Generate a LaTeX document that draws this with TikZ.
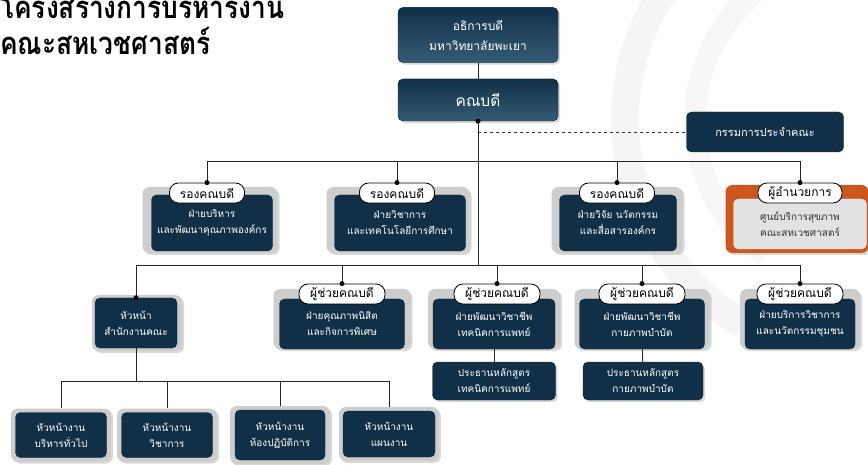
\documentclass[tikz,border=0pt]{standalone}
\usepackage{fontspec}
\newfontfamily\thaifont[Script=Thai]{Loma}
\usetikzlibrary{shadows}

\definecolor{boxnavy}{RGB}{17,48,72}
\definecolor{boxlight}{RGB}{52,92,116}
\definecolor{backgray}{RGB}{205,205,205}
\definecolor{headorange}{RGB}{204,86,32}
\definecolor{innergray}{RGB}{226,226,226}

\tikzset{
  darkbox/.style={rounded corners=5pt, fill=boxnavy, draw=boxnavy!70!black, text=white,
    align=center, inner sep=2pt, font=\thaifont\fontsize{10}{16}\selectfont},
  backbox/.style={rounded corners=7pt, fill=backgray,
    drop shadow={opacity=0.3, shadow xshift=2pt, shadow yshift=-2pt}},
  pill/.style={rounded corners=9pt, fill=white, draw=black, thick, inner sep=1pt,
    minimum height=20pt, font=\thaifont\fontsize{12}{14}\selectfont},
  dot/.style={circle, fill=black, inner sep=0pt, minimum size=5pt},
  link/.style={thick, black!85},
  headline/.style={anchor=base west, inner sep=0pt, xscale=0.85, transform shape,
    font=\thaifont\bfseries\fontsize{31}{36}\selectfont}
}

\begin{document}
\begin{tikzpicture}[x=1pt,y=-1pt]
    \useasboundingbox (0,0) rectangle (868,465);

    % watermark arcs
    \draw[black!4, line width=28pt] (860,120) ++(120:235) arc (120:265:235);
    \draw[black!3, line width=22pt] (860,120) ++(125:165) arc (125:260:165);

    % title
    \node[headline] (title1) at (0,19) {โครงสร้างการบริหารงาน};
    \node[headline] (title2) at (0,55) {คณะสหเวชศาสตร์};

    % top
    \node[darkbox, top color=boxnavy, bottom color=boxlight, minimum width=160pt, minimum height=55pt,
      font=\thaifont\fontsize{12}{20}\selectfont, drop shadow={opacity=0.3}] (rector) at (478,35) {อธิการบดี\\มหาวิทยาลัยพะเยา};
    \node[darkbox, top color=boxnavy, bottom color=boxlight, minimum width=160pt, minimum height=42pt,
      font=\thaifont\fontsize{15.5}{20}\selectfont, drop shadow={opacity=0.3}] (dean) at (478,100) {คณบดี};
    \node[darkbox, minimum width=157pt, minimum height=40pt, font=\thaifont\fontsize{11}{13}\selectfont] (board) at (765,132) {กรรมการประจำคณะ};

    \draw[link] (rector) -- (dean);
    \node[dot] (deandot) at (dean.south) {};
    \coordinate (trunk) at (dean.south |- 0,265);
    \coordinate (dash) at (dean.south |- board.west);
    \draw[link] (dean.south) -- (trunk);
    \draw[thick, dashed, black!80] (dash) -- (board.west);

    % vice deans
    \foreach \n/\x/\w in {v1/210/127, v2/398/135, v3/617/123}
      \node[backbox, minimum width=\w pt+8pt, minimum height=66pt] (\n back) at (\x,220) {};
    \node[backbox, fill=headorange, minimum width=143pt, minimum height=68pt] (v4back) at (797,219) {};

    \node[darkbox, minimum width=121pt, minimum height=56pt] (v1) at (212,223) {ฝ่ายบริหาร\\และพัฒนาคุณภาพองค์กร};
    \node[darkbox, minimum width=131pt, minimum height=56pt] (v2) at (400,223) {ฝ่ายวิชาการ\\และเทคโนโลยีการศึกษา};
    \node[darkbox, minimum width=117pt, minimum height=56pt] (v3) at (618,223) {ฝ่ายวิจัย นวัตกรรม\\และสื่อสารองค์กร};
    \node[darkbox, fill=innergray, draw=innergray, text=black!80, minimum width=133pt, minimum height=50pt] (v4) at (800,224) {ศูนย์บริการสุขภาพ\\คณะสหเวชศาสตร์};

    \foreach \n/\x in {v1/207, v2/397, v3/617}
      \node[pill, minimum width=75pt] (\n pill) at (\x,193) {รองคณบดี};
    \node[pill, minimum width=84pt] (v4pill) at (800,193) {ผู้อำนวยการ};

    \coordinate (bus1w) at (v1pill.north |- 0,161);
    \coordinate (bus1e) at (v4pill.north |- 0,161);
    \draw[link] (bus1w) -- (bus1e);
    \foreach \n in {v1,v2,v3,v4}{
      \draw[link] (\n pill.north |- bus1w) -- (\n pill.north);
      \node[dot] (\n dot) at (\n pill.north) {};
    }

    % assistants
    \node[backbox, minimum width=90pt, minimum height=56pt] (hqback) at (137,323) {};
    \node[darkbox, minimum width=82pt, minimum height=50pt] (hq) at (136,323) {หัวหน้า\\สำนักงานคณะ};

    \foreach \n/\x/\w in {a1/342/131, a2/494/126, a3/642/129, a4/800/114}
      \node[backbox, minimum width=\w pt+6pt, minimum height=60pt] (\n back) at (\x,319) {};
    \node[darkbox, minimum width=125pt, minimum height=50pt] (a1) at (342,324) {ฝ่ายคุณภาพนิสิต\\และกิจการพิเศษ};
    \node[darkbox, minimum width=122pt, minimum height=50pt] (a2) at (494,324) {ฝ่ายพัฒนาวิชาชีพ\\เทคนิคการแพทย์};
    \node[darkbox, minimum width=125pt, minimum height=50pt] (a3) at (642,324) {ฝ่ายพัฒนาวิชาชีพ\\กายภาพบำบัด};
    \node[darkbox, minimum width=110pt, minimum height=50pt] (a4) at (800,324) {ฝ่ายบริการวิชาการ\\และนวัตกรรมชุมชน};

    \foreach \n/\x in {a1/342, a2/497, a3/642, a4/800}
      \node[pill, minimum width=86pt] (\n pill) at (\x,294) {ผู้ช่วยคณบดี};

    \coordinate (bus2w) at (hq.north |- trunk);
    \coordinate (bus2e) at (a4pill.north |- trunk);
    \draw[link] (bus2w) -- (bus2e);
    \draw[link] (bus2w) -- (hq.north);
    \node[dot] (hqdot) at (hq.north) {};
    \foreach \n in {a1,a2,a3,a4}{
      \draw[link] (\n pill.north |- trunk) -- (\n pill.north);
      \node[dot] (\n dot) at (\n pill.north) {};
    }

    % programme chairs
    \node[darkbox, minimum width=123pt, minimum height=38pt, drop shadow={opacity=0.3}] (p1) at (494,381) {ประธานหลักสูตร\\เทคนิคการแพทย์};
    \node[darkbox, minimum width=120pt, minimum height=38pt, drop shadow={opacity=0.3}] (p2) at (643,381) {ประธานหลักสูตร\\กายภาพบำบัด};
    \draw[link] (a2) -- (p1);
    \draw[link] (a3) -- (p2);

    % sections
    \foreach \n/\x/\y/\h in {b1/61/435/45, b2/167/435/45, b3/280/435/50, b4/389/434/46}
      \node[backbox, minimum width=100pt, minimum height=\h pt+8pt] (\n back) at (\x,\y) {};
    \node[darkbox, minimum width=91pt, minimum height=45pt] (b1) at (61,435) {หัวหน้างาน\\บริหารทั่วไป};
    \node[darkbox, minimum width=91pt, minimum height=45pt] (b2) at (167,435) {หัวหน้างาน\\วิชาการ};
    \node[darkbox, minimum width=90pt, minimum height=50pt] (b3) at (280,435) {หัวหน้างาน\\ห้องปฏิบัติการ};
    \node[darkbox, minimum width=92pt, minimum height=46pt] (b4) at (389,434) {หัวหน้างาน\\แผนงาน};

    \coordinate (bus3) at (hq.south |- 0,381);
    \draw[link] (hq.south) -- (bus3);
    \draw[link] (b1.north |- bus3) -- (b4.north |- bus3);
    \foreach \n in {b1,b2,b3,b4}
      \draw[link] (\n.north |- bus3) -- (\n back.north);
\end{tikzpicture}
\end{document}
